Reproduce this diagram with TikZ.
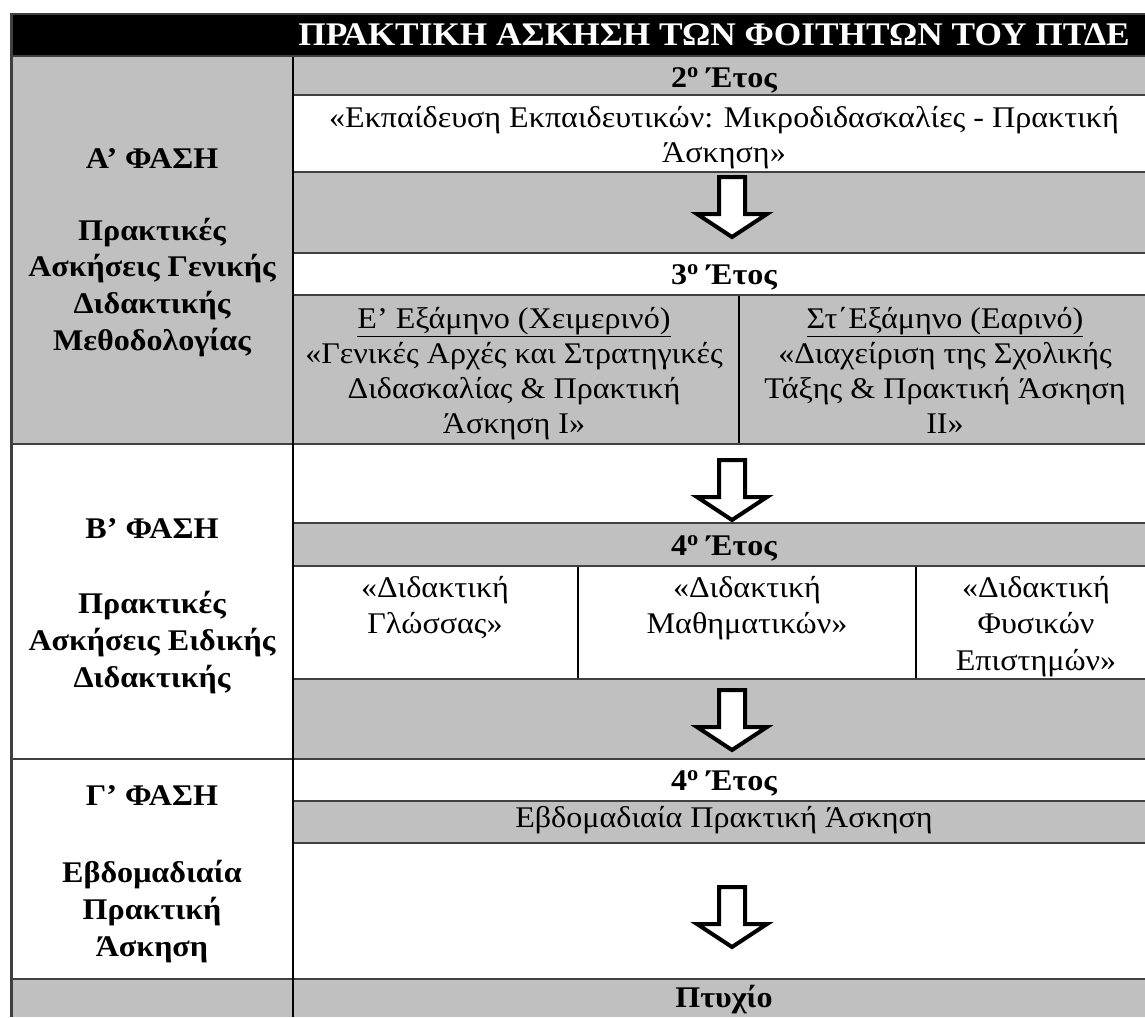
\documentclass[tikz,border=0pt]{standalone}
\usepackage{fontspec}
\setmainfont[FakeStretch=1.07]{Liberation Serif}
\definecolor{cellgray}{HTML}{C0C0C0}
\definecolor{linegray}{HTML}{404040}
\begin{document}
\begin{tikzpicture}[x=1pt,y=-1pt,
  gcell/.style={fill=cellgray},
  hrule/.style={draw=linegray, line width=2.6pt},
  vrule/.style={draw=black, line width=2pt},
  txt/.style={font=\fontsize{30}{36}\selectfont, anchor=base, inner sep=0pt},
  btxt/.style={font=\fontsize{30}{36}\selectfont\bfseries, anchor=base, inner sep=0pt},
  bigarrow/.pic={\draw[line width=4pt, fill=white, line join=miter]
      (-13,0) -- (-13,37) -- (-35,37) -- (0,60) -- (35,37) -- (13,37) -- (13,0) -- cycle;}
]
\useasboundingbox (0,0) rectangle (1145,1017);
% fills
\fill[black] (11,14) rectangle (1145,56);
\fill[gcell] (11,56) rectangle (293,444);
\fill[gcell] (293,56) rectangle (1145,95);
\fill[gcell] (293,172) rectangle (1145,253);
\fill[gcell] (293,295) rectangle (1145,444);
\fill[gcell] (293,523) rectangle (1145,566);
\fill[gcell] (293,679) rectangle (1145,759);
\fill[gcell] (293,801) rectangle (1145,843);
\fill[gcell] (11,979) rectangle (1145,1017);
% horizontal rules
\draw[hrule] (11,14) -- (1145,14);
\draw[hrule] (11,56) -- (1145,56);
\draw[hrule] (293,95) -- (1145,95);
\draw[hrule] (293,172) -- (1145,172);
\draw[hrule] (293,253) -- (1145,253);
\draw[hrule] (293,295) -- (1145,295);
\draw[hrule] (11,444) -- (1145,444);
\draw[hrule] (293,523) -- (1145,523);
\draw[hrule] (293,566) -- (1145,566);
\draw[hrule] (293,679) -- (1145,679);
\draw[hrule] (11,759) -- (1145,759);
\draw[hrule] (293,801) -- (1145,801);
\draw[hrule] (293,843) -- (1145,843);
\draw[hrule] (11,979) -- (1145,979);
% vertical rules
\draw[draw=linegray, line width=2.6pt] (11.5,13) -- (11.5,1017);
\draw[vrule] (293,57) -- (293,1017);
\draw[vrule] (739,296) -- (739,443);
\draw[vrule] (578,567) -- (578,678);
\draw[vrule] (916,567) -- (916,678);
% arrows
\pic at (732,177) {bigarrow};
\pic at (732,460) {bigarrow};
\pic at (732,690) {bigarrow};
\pic at (732,887) {bigarrow};
% header
\node[font=\fontsize{33}{38}\selectfont\bfseries, anchor=base, inner sep=0pt, text=white] (title) at (714,45) {ΠΡΑΚΤΙΚΗ ΑΣΚΗΣΗ ΤΩΝ ΦΟΙΤΗΤΩΝ ΤΟΥ ΠΤΔΕ};
% left column
\node[btxt] (a1) at (152,168) {Α’ ΦΑΣΗ};
\node[btxt] (a2) at (152,240) {Πρακτικές};
\node[btxt] (a3) at (152,276) {Ασκήσεις Γενικής};
\node[btxt] (a4) at (152,313) {Διδακτικής};
\node[btxt] (a5) at (152,350) {Μεθοδολογίας};
\node[btxt] (b1) at (152,538) {Β’ ΦΑΣΗ};
\node[btxt] (b2) at (152,613) {Πρακτικές};
\node[btxt] (b3) at (152,650) {Ασκήσεις Ειδικής};
\node[btxt] (b4) at (152,687) {Διδακτικής};
\node[btxt] (c1) at (152,805) {Γ’ ΦΑΣΗ};
\node[btxt] (c2) at (152,882) {Εβδομαδιαία};
\node[btxt] (c3) at (152,919) {Πρακτική};
\node[btxt] (c4) at (152,956) {Άσκηση};
% right column
\node[btxt] (y2) at (724,87) {2\textsuperscript{ο} Έτος};
\node[txt] (t2a) at (724,127) {«Εκπαίδευση Εκπαιδευτικών: Μικροδιδασκαλίες - Πρακτική};
\node[txt] (t2b) at (724,162) {Άσκηση»};
\node[btxt] (y3) at (724,284) {3\textsuperscript{ο} Έτος};
\node[txt] (s1a) at (514,328) {\underline{Ε’ Εξάμηνο (Χειμερινό)}};
\node[txt] (s1b) at (514,363) {«Γενικές Αρχές και Στρατηγικές};
\node[txt] (s1c) at (514,398) {Διδασκαλίας \& Πρακτική};
\node[txt] (s1d) at (514,433) {Άσκηση Ι»};
\node[txt] (s2a) at (945,328) {\underline{Στ΄Εξάμηνο (Εαρινό)}};
\node[txt] (s2b) at (945,363) {«Διαχείριση της Σχολικής};
\node[txt] (s2c) at (945,398) {Τάξης \& Πρακτική Άσκηση};
\node[txt] (s2d) at (945,433) {ΙΙ»};
\node[btxt] (y4) at (724,555) {4\textsuperscript{ο} Έτος};
\node[txt] (d1a) at (435,597) {«Διδακτική};
\node[txt] (d1b) at (435,633) {Γλώσσας»};
\node[txt] (d2a) at (747,597) {«Διδακτική};
\node[txt] (d2b) at (747,633) {Μαθηματικών»};
\node[txt] (d3a) at (1036,597) {«Διδακτική};
\node[txt] (d3b) at (1036,633) {Φυσικών};
\node[txt] (d3c) at (1036,670) {Επιστημών»};
\node[btxt] (y4b) at (724,790) {4\textsuperscript{ο} Έτος};
\node[txt] (w1) at (724,827) {Εβδομαδιαία Πρακτική Άσκηση};
\node[btxt] (deg) at (724,1007) {Πτυχίο};
\end{tikzpicture}
\end{document}
